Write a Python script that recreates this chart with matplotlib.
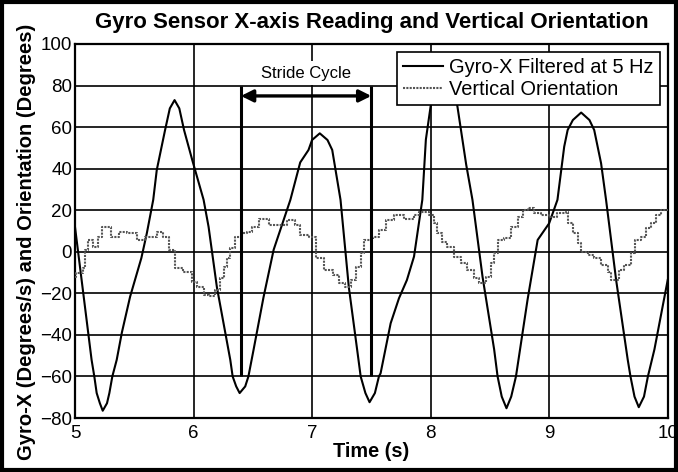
import matplotlib
matplotlib.use("Agg")
import matplotlib.pyplot as plt
from matplotlib.patches import Rectangle

plt.rcParams['font.family'] = ['Liberation Sans', 'DejaVu Sans']

# Gyro-X filtered at 5 Hz
gyro_t = [5.00, 5.07, 5.14, 5.163, 5.183, 5.21, 5.234, 5.27, 5.29, 5.315, 5.352, 5.395, 5.465,
          5.56, 5.606, 5.66, 5.69, 5.76, 5.80, 5.84, 5.88, 5.92, 5.99, 6.04, 6.085, 6.127,
          6.197, 6.31, 6.33, 6.36, 6.389, 6.436, 6.463, 6.507, 6.59, 6.676, 6.817, 6.90,
          6.97, 7.0, 7.065, 7.13, 7.17, 7.24, 7.31, 7.38, 7.41, 7.45, 7.485, 7.53, 7.564,
          7.578, 7.663, 7.733, 7.80, 7.86, 7.93, 7.96, 8.0, 8.05, 8.11, 8.17, 8.226,
          8.30, 8.353, 8.438, 8.536, 8.565, 8.60, 8.64, 8.68, 8.72, 8.818, 8.903, 9.0,
          9.07, 9.127, 9.156, 9.2, 9.27, 9.34, 9.38, 9.438, 9.48, 9.565, 9.663, 9.686,
          9.72, 9.756, 9.80, 9.833, 9.888, 10.0]
gyro_v = [12, -20, -52, -60, -68, -72.9, -76.5, -72.9, -68, -60, -52, -39, -21.6,
          -3, 8.9, 25, 39.4, 58.6, 69, 73, 69, 58.6, 44, 34, 25, 12,
          -17, -52, -60, -64.8, -68, -64.8, -60, -47, -22, 1, 25, 43,
          49, 53.8, 57, 53.8, 49, 25, -17, -47, -60, -68, -72.4, -68, -60,
          -58.5, -34.4, -22.4, -13.6, -2.3, 25, 54, 70, 84, 88, 84, 70,
          42, 25, -12, -47, -60, -69.7, -75.3, -69.7, -60, -23, 5.7, 13.7,
          25, 50.6, 58.6, 63.4, 67, 63.4, 58.6, 42.6, 25, -13.6, -52, -60,
          -69.7, -74.8, -69.7, -60, -47, -13.6]

# Vertical orientation (stepped)
ori_t = [5.00, 5.01, 5.07, 5.085, 5.11, 5.155, 5.19, 5.225, 5.30, 5.37, 5.437, 5.52, 5.59,
         5.69, 5.746, 5.79, 5.845, 5.915, 5.986, 6.03, 6.085, 6.13, 6.18, 6.226, 6.254,
         6.28, 6.31, 6.35, 6.41, 6.45, 6.49, 6.55, 6.634, 6.705, 6.79, 6.86, 6.90, 6.97,
         7.03, 7.10, 7.18, 7.226, 7.28, 7.325, 7.367, 7.41, 7.437, 7.51, 7.564, 7.62,
         7.69, 7.775, 7.86, 7.90, 7.987, 8.03, 8.057, 8.10, 8.14, 8.20, 8.254, 8.31,
         8.367, 8.41, 8.466, 8.51, 8.536, 8.565, 8.62, 8.677, 8.733, 8.776, 8.818,
         8.874, 8.93, 9.0, 9.07, 9.14, 9.156, 9.20, 9.24, 9.27, 9.325, 9.38, 9.44,
         9.495, 9.522, 9.565, 9.59, 9.635, 9.69, 9.72, 9.775, 9.82, 9.86, 9.90, 9.945, 10.0]
ori_v = [-12, -10, -8, 0.9, 5.7, 2.5, 7, 12, 7.3, 9.7, 8.9, 5.7, 7.3,
         9.7, 7.3, 0.9, -8, -9.6, -14.4, -16.8, -20.8, -21.3, -18.4, -12.8, -7.2,
         -3, 1.7, 7.3, 8.9, 9.7, 12, 16, 12.9, 12.9, 15.3, 12.9, 8.1, 7.3,
         -3, -8.8, -11.2, -15.2, -17, -13.6, -7.2, -0.7, 5.7, 7.3, 10.5, 15.3,
         17.7, 16, 17.7, 19.3, 17.7, 13.7, 8.9, 4.9, 2.5, -2.3, -5.5, -8.8,
         -12.8, -15.2, -12, -5.5, -0.7, 5.7, 6.5, 12, 16.9, 20.1, 21,
         18.5, 17.7, 16.9, 18.5, 19.3, 13.7, 8.9, 4.1, 0.1, -1.5, -3, -6.3,
         -9.6, -13.6, -13.6, -8.8, -6.3, -0.7, 5.7, 7.3, 11.3, 13.7, 17.7, 20, 20]

stride_start, stride_end = 6.4, 7.5
stride_low, stride_high = -60, 80
arrow_y = 75

fig = plt.figure(figsize=(6.78, 4.72), dpi=100)
ax = fig.add_axes([0.1106, 0.1144, 0.8742, 0.7924])

ax.plot(gyro_t, gyro_v, color='black', lw=1.5, label='Gyro-X Filtered at 5 Hz', zorder=3)
ax.plot(ori_t, ori_v, color='#555555', lw=1.5, ls=(0, (1, 0.6)), drawstyle='steps-post',
        label='Vertical Orientation', zorder=3)

ax.set_xlim(5, 10)
ax.set_ylim(-80, 100)
ax.set_xticks([5, 6, 7, 8, 9, 10])
ax.set_yticks(range(-80, 101, 20))
ax.grid(True, color='black', lw=1.2)
ax.set_axisbelow(True)
ax.tick_params(length=0, labelsize=13.5)
ax.tick_params(axis='x', pad=5)
ax.tick_params(axis='y', pad=2)
for s in ax.spines.values():
    s.set_linewidth(1.6)

# Stride cycle annotation
ax.vlines([stride_start, stride_end], stride_low, stride_high, color='black', lw=2.2, zorder=4)
ax.annotate('', xy=(stride_start, arrow_y), xytext=(stride_end, arrow_y),
            arrowprops=dict(arrowstyle='<|-|>', color='black', lw=2.4,
                            mutation_scale=18, shrinkA=0, shrinkB=0), zorder=5)
ax.text((stride_start + stride_end) / 2, 86, 'Stride Cycle', ha='center', va='center',
        fontsize=12, zorder=5,
        bbox=dict(facecolor='white', edgecolor='none', pad=3))

leg = ax.legend(loc='upper right', bbox_to_anchor=(0.987, 0.979), fontsize=14.4,
                fancybox=False, framealpha=1, edgecolor='black', borderaxespad=0,
                handlelength=2.0, handletextpad=0.3, borderpad=0.3, labelspacing=0.15)
leg.get_frame().set_linewidth(1.2)
leg.set_zorder(10)

ax.set_title('Gyro Sensor X-axis Reading and Vertical Orientation', fontsize=16,
             fontweight='bold', pad=11.5)
ax.set_xlabel('Time (s)', fontsize=14.3, fontweight='bold', labelpad=0)
ax.set_ylabel('Gyro-X (Degrees/s) and Orientation (Degrees)', fontsize=14.5,
              fontweight='bold')
ax.yaxis.set_label_coords(-0.066, 0.47)

fig.patches.append(Rectangle((0.003, 0.004), 0.994, 0.992, transform=fig.transFigure,
                             fill=False, edgecolor='black', lw=3))

fig.savefig('out.png', dpi=100)
